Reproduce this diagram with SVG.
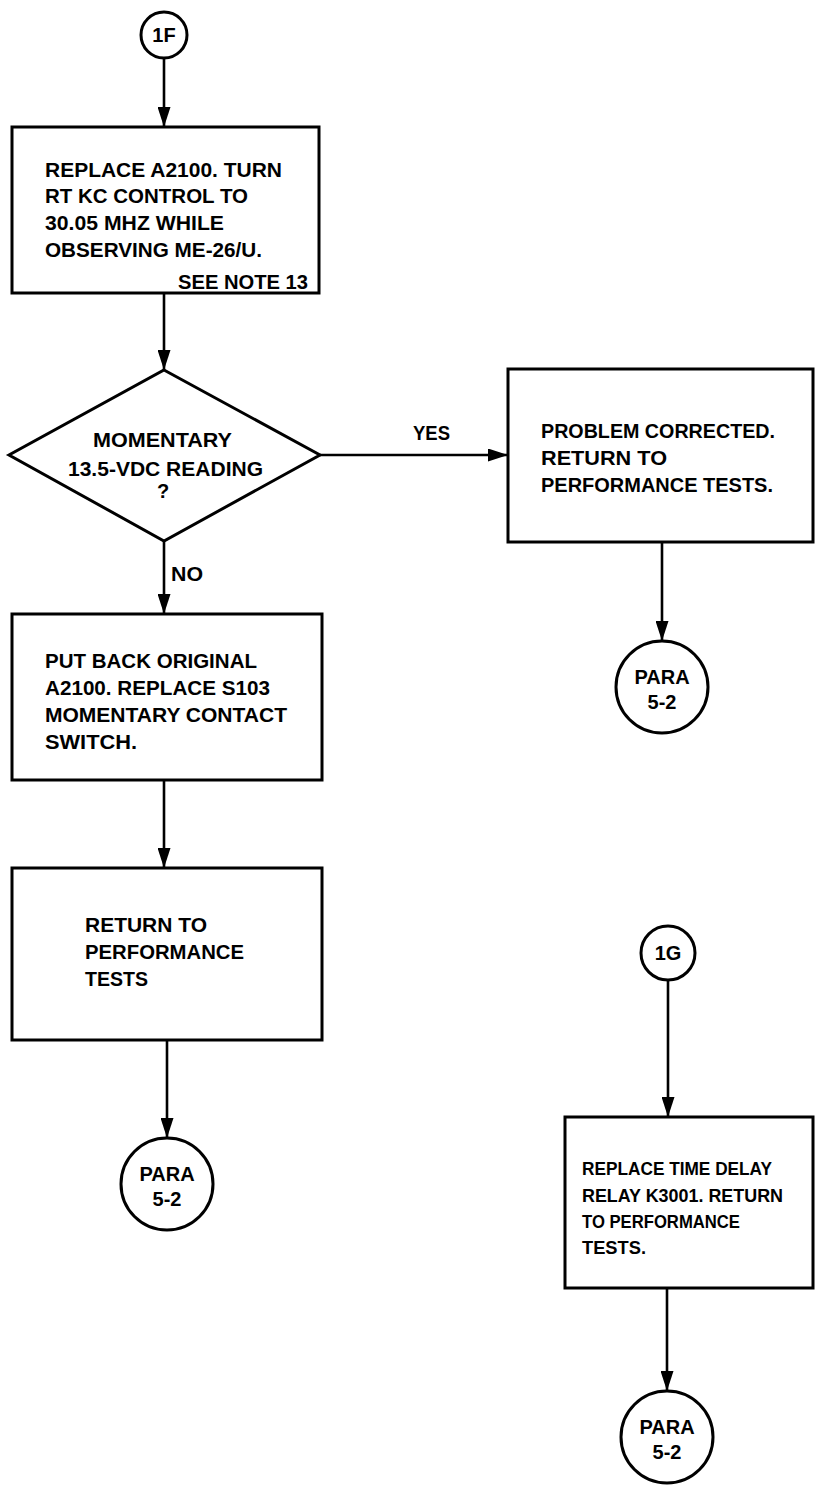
<svg xmlns="http://www.w3.org/2000/svg" width="815" height="1507" viewBox="0 0 815 1507">
  <style>
    .shape { fill: #ffffff; stroke: #000000; stroke-width: 3; }
    .link { fill: none; stroke: #000000; stroke-width: 2.6; }
    .txt { font-family: "Liberation Sans", Arial, sans-serif; font-weight: bold; font-size: 20px; fill: #000000; }
    .sm { font-size: 19px; }
    .mid { text-anchor: middle; }
    .end { text-anchor: end; }
  </style>
  <defs>
    <marker id="arrow" viewBox="0 0 20 13" refX="20" refY="6.5" markerWidth="20" markerHeight="13" markerUnits="userSpaceOnUse" orient="auto">
      <path d="M0,0 L20,6.5 L0,13 Z" fill="#000000"/>
    </marker>
  </defs>
  <rect width="815" height="1507" fill="#ffffff"/>

  <!-- connectors -->
  <g id="connectors">
    <line class="link" x1="164" y1="58" x2="164" y2="127" marker-end="url(#arrow)"/>
    <line class="link" x1="164" y1="293" x2="164" y2="370" marker-end="url(#arrow)"/>
    <line class="link" x1="320" y1="455" x2="508" y2="455" marker-end="url(#arrow)"/>
    <line class="link" x1="164" y1="541" x2="164" y2="614" marker-end="url(#arrow)"/>
    <line class="link" x1="164" y1="780" x2="164" y2="868" marker-end="url(#arrow)"/>
    <line class="link" x1="167" y1="1040" x2="167" y2="1138" marker-end="url(#arrow)"/>
    <line class="link" x1="662" y1="542" x2="662" y2="641" marker-end="url(#arrow)"/>
    <line class="link" x1="668" y1="980" x2="668" y2="1117" marker-end="url(#arrow)"/>
    <line class="link" x1="667" y1="1288" x2="667" y2="1391" marker-end="url(#arrow)"/>
    <text class="txt" x="413" y="440" textLength="37" lengthAdjust="spacingAndGlyphs">YES</text>
    <text class="txt" x="171" y="581" textLength="32" lengthAdjust="spacingAndGlyphs">NO</text>
  </g>

  <!-- entry point 1F -->
  <g id="start-1f">
    <circle class="shape" cx="164" cy="35" r="23"/>
    <text class="txt mid" x="164" y="42">1F</text>
  </g>

  <g id="replace-a2100">
    <rect class="shape" x="12" y="127" width="307" height="166"/>
    <text class="txt" x="45" y="177" textLength="237" lengthAdjust="spacingAndGlyphs">REPLACE A2100.  TURN</text>
    <text class="txt" x="45" y="203" textLength="203" lengthAdjust="spacingAndGlyphs">RT KC CONTROL TO</text>
    <text class="txt" x="45" y="230" textLength="179" lengthAdjust="spacingAndGlyphs">30.05 MHZ WHILE</text>
    <text class="txt" x="45" y="257" textLength="217" lengthAdjust="spacingAndGlyphs">OBSERVING ME-26/U.</text>
    <text class="txt" x="178" y="289" textLength="130" lengthAdjust="spacingAndGlyphs">SEE NOTE 13</text>
  </g>

  <g id="decision-reading">
    <polygon class="shape" points="164,370 320,455 164,541 9,455"/>
    <text class="txt" x="93" y="447" textLength="139" lengthAdjust="spacingAndGlyphs">MOMENTARY</text>
    <text class="txt" x="68" y="476" textLength="195" lengthAdjust="spacingAndGlyphs">13.5-VDC READING</text>
    <text class="txt mid" x="163" y="498">?</text>
  </g>

  <g id="problem-corrected">
    <rect class="shape" x="508" y="369" width="305" height="173"/>
    <text class="txt" x="541" y="438" textLength="234" lengthAdjust="spacingAndGlyphs">PROBLEM CORRECTED.</text>
    <text class="txt" x="541" y="465" textLength="126" lengthAdjust="spacingAndGlyphs">RETURN TO</text>
    <text class="txt" x="541" y="492" textLength="232" lengthAdjust="spacingAndGlyphs">PERFORMANCE TESTS.</text>
  </g>

  <g id="para-right">
    <circle class="shape" cx="662" cy="687" r="46"/>
    <text class="txt mid" x="662" y="684">PARA</text>
    <text class="txt mid" x="662" y="709">5-2</text>
  </g>

  <g id="put-back-original">
    <rect class="shape" x="12" y="614" width="310" height="166"/>
    <text class="txt" x="45" y="668" textLength="212" lengthAdjust="spacingAndGlyphs">PUT BACK ORIGINAL</text>
    <text class="txt" x="45" y="695" textLength="225" lengthAdjust="spacingAndGlyphs">A2100.  REPLACE S103</text>
    <text class="txt" x="45" y="722" textLength="242" lengthAdjust="spacingAndGlyphs">MOMENTARY CONTACT</text>
    <text class="txt" x="45" y="749" textLength="92" lengthAdjust="spacingAndGlyphs">SWITCH.</text>
  </g>

  <g id="return-tests">
    <rect class="shape" x="12" y="868" width="310" height="172"/>
    <text class="txt" x="85" y="932" textLength="122" lengthAdjust="spacingAndGlyphs">RETURN TO</text>
    <text class="txt" x="85" y="959" textLength="159" lengthAdjust="spacingAndGlyphs">PERFORMANCE</text>
    <text class="txt" x="85" y="986" textLength="63" lengthAdjust="spacingAndGlyphs">TESTS</text>
  </g>

  <g id="para-left">
    <circle class="shape" cx="167" cy="1184" r="46"/>
    <text class="txt mid" x="167" y="1181">PARA</text>
    <text class="txt mid" x="167" y="1206">5-2</text>
  </g>

  <!-- entry point 1G -->
  <g id="start-1g">
    <circle class="shape" cx="668" cy="953" r="27"/>
    <text class="txt mid" x="668" y="960">1G</text>
  </g>

  <g id="replace-k3001">
    <rect class="shape" x="565" y="1117" width="248" height="171"/>
    <text class="txt sm" x="582" y="1175" textLength="190" lengthAdjust="spacingAndGlyphs">REPLACE TIME DELAY</text>
    <text class="txt sm" x="582" y="1202" textLength="201" lengthAdjust="spacingAndGlyphs">RELAY K3001.  RETURN</text>
    <text class="txt sm" x="582" y="1228" textLength="158" lengthAdjust="spacingAndGlyphs">TO PERFORMANCE</text>
    <text class="txt sm" x="582" y="1254" textLength="64" lengthAdjust="spacingAndGlyphs">TESTS.</text>
  </g>

  <g id="para-bottom">
    <circle class="shape" cx="667" cy="1437" r="46"/>
    <text class="txt mid" x="667" y="1434">PARA</text>
    <text class="txt mid" x="667" y="1459">5-2</text>
  </g>
</svg>
